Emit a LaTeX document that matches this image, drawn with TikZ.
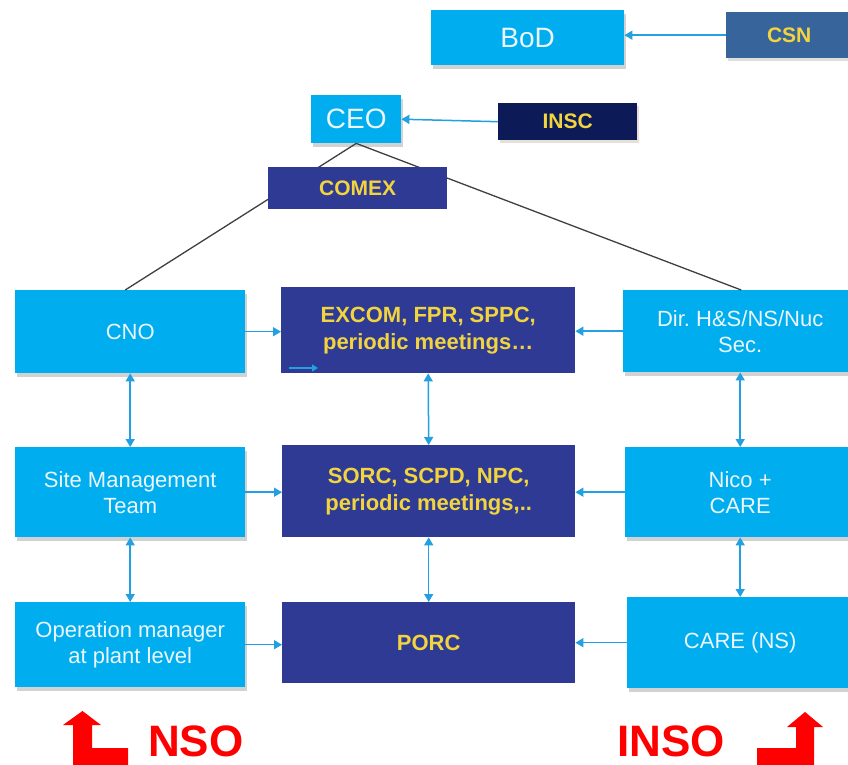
\documentclass[tikz,border=0pt]{standalone}
\usepackage{fontspec}
\setmainfont{Liberation Sans}
\usetikzlibrary{arrows.meta,shadows}
\definecolor{lblue}{RGB}{0,174,239}
\definecolor{navy}{RGB}{46,58,148}
\definecolor{dnavy}{RGB}{12,27,88}
\definecolor{steel}{RGB}{54,100,155}
\definecolor{ylw}{RGB}{242,212,62}
\definecolor{wtxt}{RGB}{236,246,252}
\definecolor{conn}{RGB}{34,160,226}
\definecolor{lgray}{RGB}{64,64,64}
\tikzset{
  bx/.style={rectangle, inner sep=0pt, anchor=north west, align=center},
  lb/.style={bx, fill=lblue, text=wtxt, font=\frenchspacing\fontsize{22}{26}\selectfont,
    drop shadow={shadow xshift=2pt, shadow yshift=-4pt, fill=black!35}},
  nv/.style={bx, fill=navy, text=ylw, font=\bfseries\fontsize{22}{27}\selectfont},
  arr/.style={draw=conn, line width=1.5pt, -{Triangle[width=9pt,length=8pt]}},
  darr/.style={draw=conn, line width=1.5pt, {Triangle[width=9pt,length=8pt]}-{Triangle[width=9pt,length=8pt]}},
  tree/.style={draw=lgray, line width=1.3pt},
  redtxt/.style={text=red, font=\bfseries\fontsize{44}{48}\selectfont, inner sep=0pt}
}
\begin{document}
\begin{tikzpicture}[x=1pt,y=-1pt]
\clip (0,0) rectangle (848,765);
\fill[white] (0,0) rectangle (848,765);
% top
\node[lb, minimum width=193pt, minimum height=55pt, font=\fontsize{28}{32}\selectfont] (bod) at (431,10) {BoD};
\node[bx, fill=steel, text=ylw, font=\bfseries\fontsize{21}{25}\selectfont, minimum width=126pt, minimum height=46pt,
  drop shadow={shadow xshift=2pt, shadow yshift=-3pt, fill=black!25}] (csn) at (726,12) {CSN};
\node[lb, minimum width=90pt, minimum height=48pt, font=\fontsize{28}{32}\selectfont] (ceo) at (311,95) {CEO};
\node[bx, fill=dnavy, text=ylw, font=\bfseries\fontsize{21}{25}\selectfont, minimum width=139pt, minimum height=37pt,
  drop shadow={shadow xshift=2pt, shadow yshift=-3pt, fill=orange!40!black!30}] (insc) at (498,103) {INSC};
% row 1
\node[lb, minimum width=230pt, minimum height=83pt] (cno) at (15,290) {CNO};
\node[nv, minimum width=294pt, minimum height=86pt] (excom) at (281,287) {EXCOM, FPR, SPPC,\\periodic meetings\dots};
\node[lb, minimum width=234pt, minimum height=82pt] (dir) at (623,290) {Dir. H\&S/NS/Nuc\\Sec.};
% row 2
\node[lb, minimum width=230pt, minimum height=90pt] (site) at (15,447) {Site Management\\Team};
\node[nv, minimum width=293pt, minimum height=92pt] (sorc) at (282,445) {SORC, SCPD, NPC,\\periodic meetings,..};
\node[lb, minimum width=230pt, minimum height=90pt] (nico) at (625,447) {Nico +\\CARE};
% row 3
\node[lb, minimum width=230pt, minimum height=85pt] (oper) at (15,602) {Operation manager\\at plant level};
\node[nv, minimum width=293pt, minimum height=81pt] (porc) at (282,602) {PORC};
\node[lb, minimum width=226pt, minimum height=91pt] (care) at (627,597) {CARE (NS)};
% tree lines behind COMEX
\draw[tree] (ceo.south) -- ([xshift=-5pt]cno.north);
\draw[tree] (ceo.south) -- ([xshift=1pt]dir.north);
\node[bx, fill=navy, text=ylw, font=\bfseries\fontsize{21}{25}\selectfont, minimum width=179pt, minimum height=42pt] (comex) at (268,167) {COMEX};
% connectors
\draw[arr] (csn.west) -- (csn.west -| bod.east);
\draw[arr] (insc.west) -- (ceo.east);
\draw[arr] (cno.east) -- (cno.east -| excom.west);
\draw[arr] (dir.west) -- (dir.west -| excom.east);
\draw[arr] (site.east) -- (site.east -| sorc.west);
\draw[arr] (nico.west) -- (nico.west -| sorc.east);
\draw[arr] (oper.east) -- (oper.east -| porc.west);
\draw[arr] (care.west) -- (care.west -| porc.east);
\draw[darr] (cno.south) -- (site.north);
\draw[darr] (site.south) -- (oper.north);
\draw[darr] (excom.south) -- (sorc.north);
\draw[darr] (sorc.south) -- (porc.north);
\draw[darr] (dir.south) -- (nico.north);
\draw[darr] (nico.south) -- (care.north);
% small arrow inside EXCOM
\coordinate (sa1) at (289,368);
\coordinate (sa2) at (318,368);
\draw[draw=conn, line width=1.3pt, -{Triangle[width=7pt,length=6pt]}] (sa1) -- (sa2);
% red arrows
\fill[red] (73,770) -- (73,725) -- (63,725) -- (82.5,711) -- (101,725) -- (92,725) -- (92,748) -- (128,748) -- (128,770) -- cycle;
\fill[red] (757,770) -- (757,748) -- (796,748) -- (796,727) -- (787,727) -- (805,712) -- (823,727) -- (814,727) -- (814,770) -- cycle;
\node[redtxt, anchor=base west] (nso) at (148,756) {NSO};
\node[redtxt, anchor=base west] (inso) at (617,756) {INSO};
\end{tikzpicture}
\end{document}
